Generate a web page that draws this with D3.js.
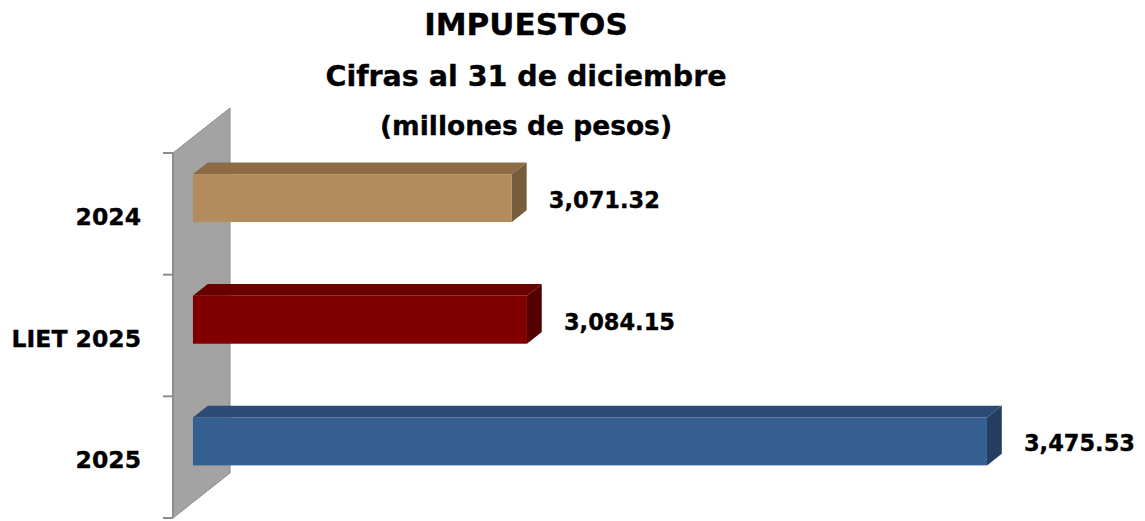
<!DOCTYPE html>
<html>
<head>
<meta charset="utf-8">
<script src="https://cdn.jsdelivr.net/npm/d3@7"></script>
<style>
  html, body { margin: 0; padding: 0; background: #ffffff; }
  svg { display: block; }
  text { font-family: "DejaVu Sans", "Open Sans", sans-serif; font-weight: bold; fill: #000; stroke: #000; stroke-width: 0.35px; }
</style>
</head>
<body>
<svg id="chart" width="1145" height="521"></svg>
<script>
const titleLines = ["IMPUESTOS", "Cifras al 31 de diciembre", "(millones de pesos)"];
const categories = ["2024", "LIET 2025", "2025"];
const values = [3071.32, 3084.15, 3475.53];
const axisDomain = [2800, 3500];
const frontColors = ["#B38C5E", "#800000", "#365F91"];
const topColors = ["#8D6C45", "#690000", "#2B4B76"];
const sideColors = ["#765D3C", "#540000", "#233E60"];

const svg = d3.select("#chart");

// Layout (front plane of the 3D box)
const plotLeft = 173, plotTop = 153, plotBottom = 518;
const pxPerUnit = 1.1754;
const depth = { dx: 57, dy: -45 };      // full depth of the box
const barDepth = [0.35, 0.61];          // fraction of depth occupied by bars

const x = d3.scaleLinear()
  .domain(axisDomain)
  .range([plotLeft, plotLeft + (axisDomain[1] - axisDomain[0]) * pxPerUnit]);

const y = d3.scaleBand()
  .domain(categories)
  .range([plotTop, plotBottom])
  .paddingInner(0.606)
  .paddingOuter(0.303);

const proj = (px, py, f) => [px + depth.dx * f, py + depth.dy * f];

// Side wall (grey)
const wallPts = [
  proj(plotLeft, plotTop, 0),
  proj(plotLeft, plotTop, 1),
  proj(plotLeft, plotBottom, 1),
  proj(plotLeft, plotBottom, 0)
];
svg.append("polygon")
  .attr("points", wallPts.map(p => p.join(",")).join(" "))
  .attr("fill", "#A3A3A3")
  .attr("stroke", "#8C8C8C")
  .attr("stroke-width", 1);

// Category axis (ticks on the front edge of wall)
const step = y.step();
const tickYs = d3.range(categories.length + 1).map(i => plotTop + i * step);
svg.append("g").selectAll("line").data(tickYs).join("line")
  .attr("x1", plotLeft - 10).attr("x2", plotLeft)
  .attr("y1", d => d).attr("y2", d => d)
  .attr("stroke", "#8C8C8C").attr("stroke-width", 2);
svg.append("line")
  .attr("x1", plotLeft).attr("x2", plotLeft)
  .attr("y1", plotTop).attr("y2", plotBottom)
  .attr("stroke", "#8C8C8C").attr("stroke-width", 2);

// Category labels
svg.append("g").selectAll("text").data(categories).join("text")
  .attr("x", 141)
  .attr("y", d => y(d) + y.bandwidth() / 2 + 3)
  .attr("text-anchor", "end")
  .attr("dominant-baseline", "central")
  .style("font-size", "23.5px")
  .text(d => d);

// Bars
const data = categories.map((c, i) => ({ c, v: values[i], i }));
const bars = svg.append("g").selectAll("g").data(data).join("g");

bars.each(function(d) {
  const g = d3.select(this);
  const x0 = x(axisDomain[0]), x1 = x(d.v);
  const y0 = y(d.c), y1 = y(d.c) + y.bandwidth();
  const f0 = barDepth[0], f1 = barDepth[1];
  const poly = pts => pts.map(p => p.join(",")).join(" ");
  // top face
  g.append("polygon")
    .attr("points", poly([proj(x0, y0, f0), proj(x1, y0, f0), proj(x1, y0, f1), proj(x0, y0, f1)]))
    .attr("fill", topColors[d.i]);
  // right side face
  g.append("polygon")
    .attr("points", poly([proj(x1, y0, f0), proj(x1, y0, f1), proj(x1, y1, f1), proj(x1, y1, f0)]))
    .attr("fill", sideColors[d.i]);
  // front face
  const fp = proj(x0, y0, f0);
  const fq = proj(x1, y1, f0);
  g.append("rect")
    .attr("x", fp[0]).attr("y", fp[1])
    .attr("width", fq[0] - fp[0]).attr("height", fq[1] - fp[1])
    .attr("fill", frontColors[d.i]);
});

// Value labels
const fmt = d3.format(",.2f");
svg.append("g").selectAll("text").data(data).join("text")
  .attr("x", d => proj(x(d.v), 0, barDepth[0])[0] + 37)
  .attr("y", d => proj(0, y(d.c) + y.bandwidth() / 2, barDepth[0])[1] + 2)
  .attr("dominant-baseline", "central")
  .style("font-size", "22.5px")
  .text(d => fmt(d.v));

// Titles
const titleSizes = [31, 28.5, 26.5];
const titleYs = [24, 76, 125];
svg.append("g").selectAll("text").data(titleLines).join("text")
  .attr("x", 526)
  .attr("y", (d, i) => titleYs[i])
  .attr("text-anchor", "middle")
  .attr("dominant-baseline", "central")
  .style("font-size", (d, i) => titleSizes[i] + "px")
  .text(d => d);
</script>
</body>
</html>
